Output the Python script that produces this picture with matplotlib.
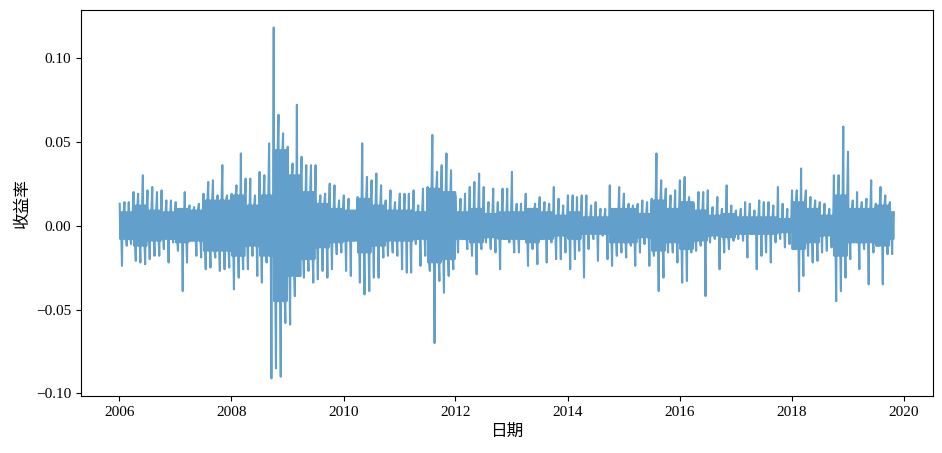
import numpy as np
import pandas as pd
import matplotlib
matplotlib.use("Agg")
import matplotlib.pyplot as plt

plt.rcParams["font.family"] = ["Liberation Serif", "Noto Sans CJK SC"]
plt.rcParams["axes.unicode_minus"] = True

# monthly high / low daily return, Jan 2006 .. Oct 2019
months = pd.date_range("2006-01-01", periods=166, freq="MS")

ret_high = [
    0.013, 0.014, 0.014, 0.020, 0.019, 0.030, 0.021, 0.023, 0.020, 0.021, 0.015, 0.015,  # 2006
    0.014, 0.008, 0.020, 0.012, 0.011, 0.013, 0.019, 0.026, 0.027, 0.018, 0.036, 0.018,  # 2007
    0.019, 0.024, 0.043, 0.028, 0.028, 0.018, 0.032, 0.030, 0.049, 0.118, 0.066, 0.055,  # 2008
    0.047, 0.037, 0.072, 0.041, 0.036, 0.036, 0.036, 0.018, 0.019, 0.025, 0.024, 0.015,  # 2009
    0.018, 0.016, 0.009, 0.017, 0.049, 0.029, 0.027, 0.031, 0.024, 0.015, 0.021, 0.014,  # 2010
    0.019, 0.019, 0.019, 0.021, 0.012, 0.022, 0.023, 0.054, 0.032, 0.036, 0.043, 0.033,  # 2011
    0.017, 0.016, 0.019, 0.023, 0.026, 0.031, 0.023, 0.014, 0.022, 0.014, 0.022, 0.022,  # 2012
    0.032, 0.013, 0.013, 0.019, 0.010, 0.013, 0.017, 0.014, 0.013, 0.023, 0.016, 0.012,  # 2013
    0.018, 0.018, 0.017, 0.018, 0.018, 0.012, 0.014, 0.010, 0.010, 0.024, 0.009, 0.023,  # 2014
    0.019, 0.013, 0.012, 0.013, 0.015, 0.014, 0.016, 0.043, 0.027, 0.022, 0.018, 0.021,  # 2015
    0.027, 0.029, 0.017, 0.013, 0.020, 0.020, 0.021, 0.011, 0.017, 0.010, 0.024, 0.012,  # 2016
    0.009, 0.010, 0.014, 0.013, 0.009, 0.015, 0.014, 0.014, 0.012, 0.023, 0.013, 0.010,  # 2017
    0.021, 0.021, 0.034, 0.021, 0.017, 0.015, 0.014, 0.013, 0.010, 0.030, 0.030, 0.059,  # 2018
    0.044, 0.015, 0.020, 0.014, 0.016, 0.027, 0.013, 0.023, 0.018, 0.014,                # 2019
]

ret_low = [
    -0.024, -0.012, -0.011, -0.021, -0.022, -0.023, -0.020, -0.018, -0.018, -0.014, -0.022, -0.010,  # 2006
    -0.015, -0.039, -0.022, -0.009, -0.018, -0.019, -0.026, -0.025, -0.019, -0.027, -0.026, -0.025,  # 2007
    -0.038, -0.031, -0.026, -0.026, -0.018, -0.030, -0.034, -0.022, -0.091, -0.085, -0.090, -0.058,  # 2008
    -0.059, -0.042, -0.030, -0.031, -0.027, -0.034, -0.032, -0.027, -0.031, -0.026, -0.017, -0.016,  # 2009
    -0.027, -0.030, -0.007, -0.034, -0.041, -0.039, -0.031, -0.031, -0.019, -0.018, -0.016, -0.018,  # 2010
    -0.026, -0.028, -0.028, -0.011, -0.024, -0.018, -0.027, -0.070, -0.033, -0.040, -0.030, -0.026,  # 2011
    -0.016, -0.008, -0.014, -0.018, -0.029, -0.014, -0.010, -0.014, -0.016, -0.026, -0.006, -0.010,  # 2012
    -0.016, -0.016, -0.008, -0.024, -0.014, -0.023, -0.008, -0.022, -0.010, -0.020, -0.020, -0.016,  # 2013
    -0.026, -0.020, -0.015, -0.031, -0.014, -0.008, -0.021, -0.006, -0.020, -0.024, -0.018, -0.016,  # 2014
    -0.019, -0.012, -0.024, -0.016, -0.011, -0.024, -0.018, -0.039, -0.031, -0.016, -0.016, -0.022,  # 2015
    -0.034, -0.033, -0.016, -0.015, -0.012, -0.042, -0.010, -0.008, -0.026, -0.016, -0.014, -0.009,  # 2016
    -0.008, -0.009, -0.019, -0.005, -0.026, -0.018, -0.016, -0.022, -0.010, -0.008, -0.013, -0.011,  # 2017
    -0.013, -0.039, -0.030, -0.018, -0.022, -0.021, -0.016, -0.015, -0.013, -0.045, -0.039, -0.031,  # 2018
    -0.020, -0.009, -0.026, -0.014, -0.035, -0.016, -0.012, -0.035, -0.017, -0.017,                  # 2019
]

# typical (dense core) daily swing per quarter, 2006Q1 .. 2019Q4
core_swing = [
    0.008, 0.012, 0.009, 0.008,  # 2006
    0.010, 0.009, 0.015, 0.015,  # 2007
    0.018, 0.012, 0.018, 0.045,  # 2008
    0.030, 0.020, 0.013, 0.010,  # 2009
    0.009, 0.016, 0.012, 0.009,  # 2010
    0.009, 0.008, 0.022, 0.020,  # 2011
    0.008, 0.010, 0.007, 0.008,  # 2012
    0.008, 0.010, 0.008, 0.006,  # 2013
    0.008, 0.005, 0.005, 0.010,  # 2014
    0.010, 0.007, 0.015, 0.010,  # 2015
    0.014, 0.009, 0.006, 0.007,  # 2016
    0.005, 0.005, 0.005, 0.004,  # 2017
    0.014, 0.010, 0.006, 0.018,  # 2018
    0.010, 0.010, 0.012, 0.008,  # 2019
]

# build one dense daily-like series: within each month the extreme days
# sit among ordinary days that swing around the core band
dates = []
values = []
for i, (m, hi, lo) in enumerate(zip(months, ret_high, ret_low)):
    c = core_swing[i // 3]
    pattern = [hi, -c, c, -c, lo, c, -c, c]
    for k, v in enumerate(pattern):
        dates.append(m + pd.Timedelta(days=2 + k * 3.7))
        values.append(v)
returns = pd.Series(values, index=pd.DatetimeIndex(dates))

fig, ax = plt.subplots(figsize=(9.42, 4.53), dpi=100)
fig.subplots_adjust(left=0.086, right=0.990, top=0.978, bottom=0.126)

ax.plot(returns.index, returns.values, color="C0", alpha=0.7, linewidth=1.5)
ax.set_xlabel("日期", fontsize=12)
ax.set_ylabel("收益率", fontsize=12)
ax.tick_params(labelsize=11)

fig.savefig("out.png", dpi=100)
